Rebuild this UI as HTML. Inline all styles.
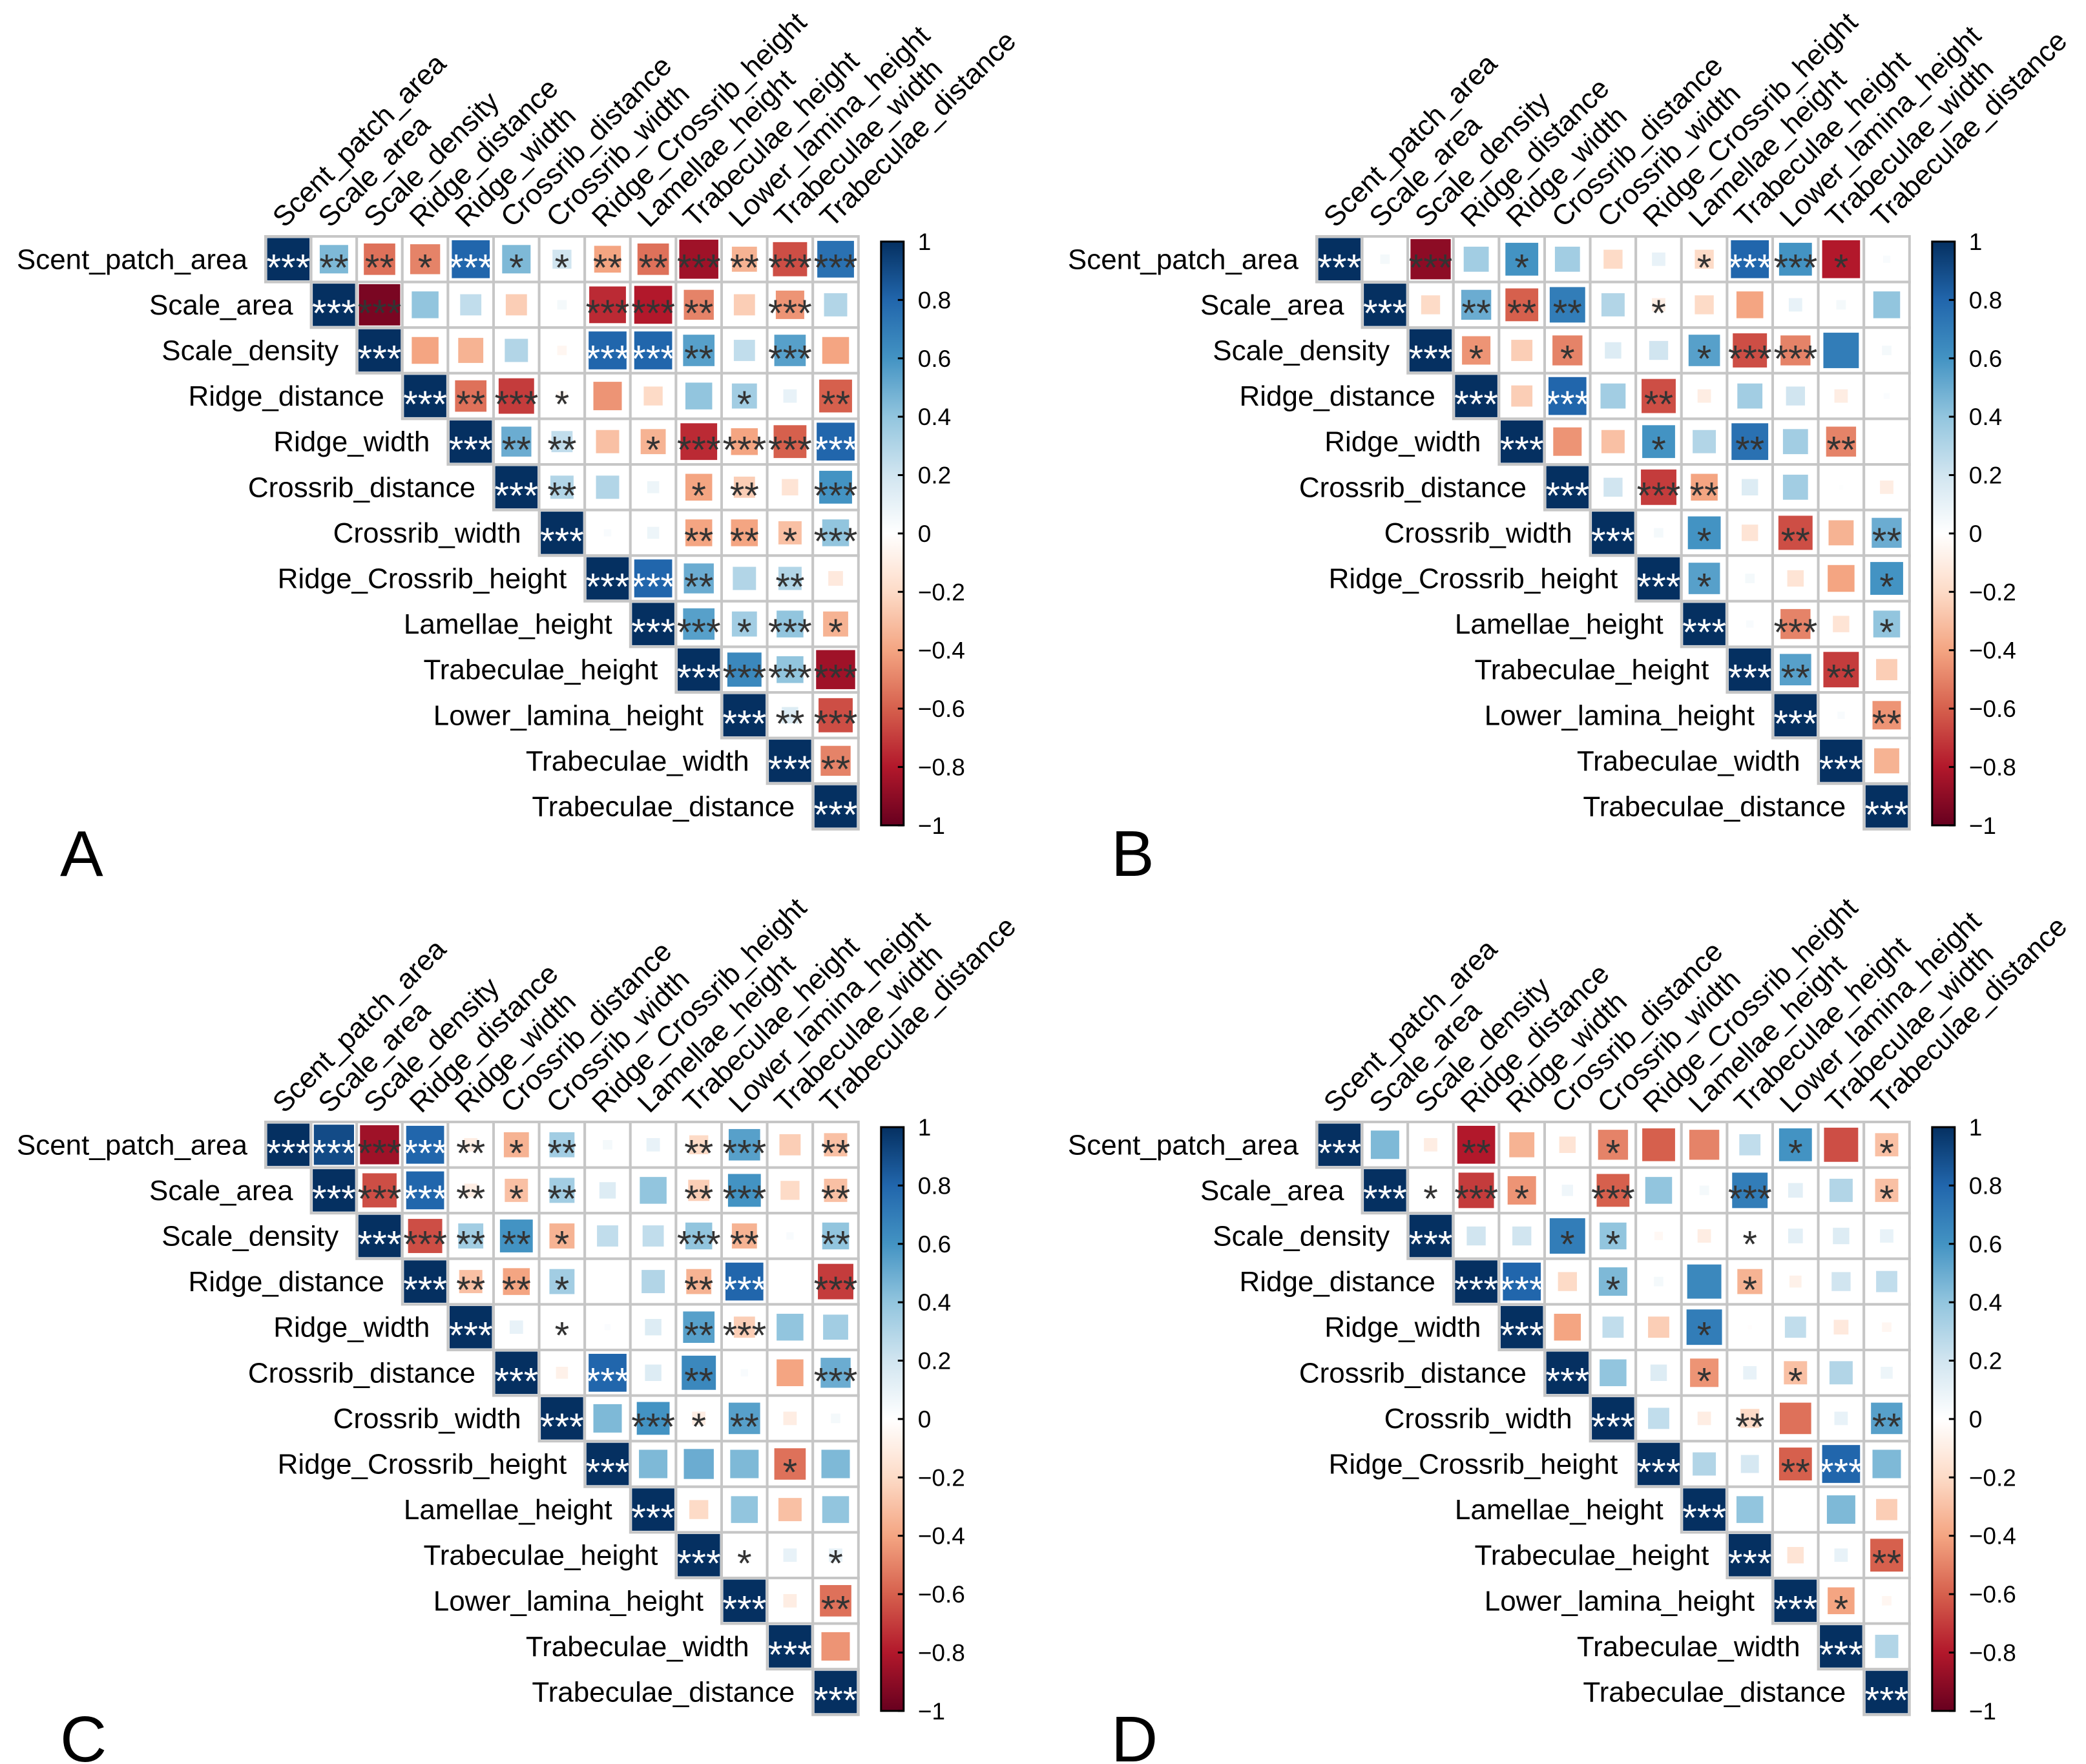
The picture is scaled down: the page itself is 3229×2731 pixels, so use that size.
<!DOCTYPE html>
<html><head><meta charset="utf-8"><style>
html,body{margin:0;padding:0;background:#fff;}
svg{display:block;font-family:"Liberation Sans",Arial,sans-serif;}
</style></head>
<body>
<svg id="chart" width="3229" height="2731" viewBox="0 0 3229 2731" xmlns="http://www.w3.org/2000/svg">
<defs>
<linearGradient id="cbgrad" x1="0" y1="0" x2="0" y2="1">
<stop offset="0" stop-color="#053061"/><stop offset="0.1" stop-color="#2166AC"/><stop offset="0.2" stop-color="#4393C3"/><stop offset="0.3" stop-color="#92C5DE"/><stop offset="0.4" stop-color="#D1E5F0"/><stop offset="0.5" stop-color="#FFFFFF"/><stop offset="0.6" stop-color="#FDDBC7"/><stop offset="0.7" stop-color="#F4A582"/><stop offset="0.8" stop-color="#D6604D"/><stop offset="0.9" stop-color="#B2182B"/><stop offset="1" stop-color="#67001F"/>
</linearGradient>
</defs>
</svg>
<script>
const vars=["Scent_patch_area","Scale_area","Scale_density","Ridge_distance","Ridge_width","Crossrib_distance","Crossrib_width","Ridge_Crossrib_height","Lamellae_height","Trabeculae_height","Lower_lamina_height","Trabeculae_width","Trabeculae_distance"];
const cbTicks=[1,0.8,0.6,0.4,0.2,0,-0.2,-0.4,-0.6,-0.8,-1];
const cbTickLabels=["1","0.8","0.6","0.4","0.2","0","\u22120.2","\u22120.4","\u22120.6","\u22120.8","\u22121"];
const panelLetters=["A","B","C","D"];

const rA=[[0.45,-0.55,-0.5,0.8,0.45,0.2,-0.4,-0.55,-0.85,-0.35,-0.65,0.75],
[-0.95,0.4,0.25,-0.25,0.05,-0.75,-0.8,-0.5,-0.25,-0.45,0.3],
[-0.4,-0.35,0.3,-0.05,0.8,0.8,0.55,0.25,0.55,-0.4],
[-0.55,-0.7,-0.05,-0.45,-0.2,0.4,0.35,0.1,-0.6],
[0.5,0.25,-0.3,-0.35,-0.75,-0.4,-0.6,0.8],
[0.3,0.3,0.08,-0.4,-0.25,-0.15,0.6],
[0.03,0.08,-0.4,-0.4,-0.3,0.4],
[0.8,0.5,0.3,0.3,-0.12],
[0.55,0.35,0.4,-0.35],
[0.65,0.4,-0.85],
[0.15,-0.65],
[-0.5]];
const sA=[[2,2,1,3,1,1,2,2,3,2,3,3],[3,0,0,0,0,3,3,2,0,3,0],[0,0,0,0,3,3,2,0,3,0],[2,3,1,0,0,0,1,0,2],[2,2,0,1,3,3,3,3],[2,0,0,1,2,0,3],[0,0,2,2,1,3],[3,2,0,2,0],[3,1,3,1],[3,3,3],[2,3],[2]];

const rB=[[0.05,-0.9,0.35,0.6,0.35,-0.2,0.1,-0.2,0.8,0.6,-0.8,0.03],
[-0.2,0.5,-0.6,0.7,0.3,-0.1,-0.2,-0.4,0.1,0.05,0.4],
[-0.45,-0.25,-0.5,0.15,0.2,0.55,-0.65,-0.5,0.7,0.05],
[-0.25,0.8,0.35,-0.65,-0.1,0.35,0.2,-0.1,0.02],
[-0.45,-0.3,0.6,0.3,0.75,0.35,-0.5,0],
[0.2,-0.7,-0.4,0.15,0.35,0.01,-0.1],
[0.05,0.6,-0.15,-0.65,-0.35,0.5],
[0.55,0.05,-0.15,-0.4,0.6],
[0.03,-0.5,-0.15,0.4],
[0.55,-0.7,-0.25],
[0.03,-0.45],
[-0.35]];
const sB=[[0,3,0,1,0,0,0,1,3,3,1,0],[0,2,2,2,0,1,0,0,0,0,0],[1,0,1,0,0,1,3,3,0,0],[0,3,0,2,0,0,0,0,0],[0,0,1,0,2,0,2,0],[0,3,2,0,0,0,0],[0,1,0,2,0,2],[1,0,0,0,1],[0,3,0,1],[2,2,0],[0,2],[0]];

const rC=[[0.9,-0.85,0.8,-0.1,-0.35,0.35,0.05,0.1,-0.2,0.55,-0.25,-0.3],
[-0.65,0.8,-0.1,-0.3,0.35,0.15,0.4,-0.25,0.6,-0.2,-0.3],
[-0.65,0.35,0.6,-0.35,0.25,0.25,0.4,-0.35,0.03,0.4],
[-0.3,-0.4,0.35,0,0.3,-0.35,0.8,0,-0.7],
[0.1,0.02,0.02,0.15,0.55,-0.25,0.4,0.35],
[-0.08,0.8,0.15,0.65,0.03,-0.4,0.5],
[0.45,0.6,-0.1,0.55,-0.1,0.05],
[0.45,0.5,0.45,-0.55,0.45],
[-0.2,0.4,-0.3,0.4],
[0.03,0.1,0.1],
[-0.1,-0.55],
[-0.45]];
const sC=[[3,3,3,2,1,2,0,0,2,3,0,2],[3,3,2,1,2,0,0,2,3,0,2],[3,2,2,1,0,0,3,2,0,2],[2,2,1,0,0,2,3,0,3],[0,1,0,0,2,3,0,0],[0,3,0,2,0,0,3],[0,3,1,2,0,0],[0,0,0,1,0],[0,0,0,0],[1,0,1],[0,2],[0]];

const rD=[[0.45,-0.1,-0.8,-0.35,-0.15,-0.5,-0.6,-0.5,0.25,0.6,-0.65,-0.3],
[-0.02,-0.7,-0.45,0.07,-0.6,0.4,0.05,0.7,0.12,0.3,-0.3],
[0.2,0.2,0.7,0.4,-0.04,-0.1,0,0.12,0.15,0.1],
[0.8,-0.2,0.45,0.05,0.65,-0.35,-0.08,0.2,0.25],
[-0.4,0.25,-0.25,0.7,-0.01,0.25,-0.12,-0.05],
[0.4,0.15,-0.45,0.1,-0.3,0.3,0.08],
[0.25,-0.1,-0.2,-0.55,0.1,0.55],
[0.3,0.18,-0.6,0.8,0.45],
[0.4,0,0.45,-0.25],
[-0.15,0.1,-0.6],
[-0.4,-0.05],
[0.3]];
const sD=[[0,0,2,0,0,1,0,0,0,1,0,1],[1,3,1,0,3,0,0,3,0,0,1],[0,0,1,1,0,0,1,0,0,0],[3,0,1,0,0,1,0,0,0],[0,0,0,1,0,0,0,0],[0,0,1,0,1,0,0],[0,0,2,0,0,2],[0,0,2,3,0],[0,0,0,0],[0,0,2],[1,0],[0]];

const panelsR=[rA,rB,rC,rD];
const panelsS=[sA,sB,sC,sD];

const NS="http://www.w3.org/2000/svg";
const svg=document.getElementById("chart");
const CELL=70.6, N=13;
const origins=[[411,366],[2038,366],[411,1737],[2038,1737]];
const stops=["#67001F","#B2182B","#D6604D","#F4A582","#FDDBC7","#FFFFFF","#D1E5F0","#92C5DE","#4393C3","#2166AC","#053061"];
function hex(c){return [parseInt(c.slice(1,3),16),parseInt(c.slice(3,5),16),parseInt(c.slice(5,7),16)];}
function colorOf(r){
  const t=(Math.max(-1,Math.min(1,r))+1)/0.2;
  const i=Math.min(9,Math.floor(t)); const f=t-i;
  const a=hex(stops[i]), b=hex(stops[i+1]);
  return "rgb("+a.map((v,k)=>Math.round(v+(b[k]-v)*f)).join(",")+")";
}
function el(tag,attrs,parent){const e=document.createElementNS(NS,tag);for(const k in attrs)e.setAttribute(k,attrs[k]);(parent||svg).appendChild(e);return e;}

panelsR.forEach((R,p)=>{
  const S=panelsS[p];
  const [ox,oy]=origins[p];
  const g=el("g",{});
  
  
  const xs=j=>ox+j*CELL, ys=i=>oy+i*CELL;
  for(let i=0;i<N;i++){
    for(let j=i;j<N;j++){
      const r = (i===j)?1:R[i][j-i-1];
      const s = (i===j)?3:S[i][j-i-1];
      const bg=el("rect",{x:xs(j),y:ys(i),width:CELL,height:CELL,fill:"#fff",stroke:"#c6c6c6","stroke-width":4},g);
      
      
      const side=Math.sqrt(Math.abs(r))*(CELL-5);
      const cx=xs(j)+CELL/2, cy=ys(i)+CELL/2;
      if(side>0.5){
        const sq=el("rect",{x:cx-side/2,y:cy-side/2,width:side,height:side,fill:colorOf(r)},g);
        
        
      }
      if(s>0){
        const t=el("text",{x:cx,y:cy+33,"text-anchor":"middle","font-size":58,fill:(r>0.78?"#ffffff":"#333333")},g);
        
        
        t.textContent="*".repeat(s);
      }
    }
  }
  for(let i=0;i<N;i++){
    const t=el("text",{x:xs(i)-28,y:ys(i)+CELL/2+15,"text-anchor":"end","font-size":44,fill:"#000"},g);
    
    
    t.textContent=vars[i];
    const lx=xs(i)+CELL/2-6, ly=oy-12;
    const c=el("text",{x:lx,y:ly,"font-size":44,fill:"#000",transform:"rotate(-45 "+lx+" "+ly+")"},g);
    
    
    c.textContent=vars[i];
  }
  // colorbar
  const bx=ox+N*CELL+35, bw=35, bt=oy+8, bb=oy+N*CELL-6;
  const cb=el("rect",{x:bx,y:bt,width:bw,height:bb-bt,fill:"url(#cbgrad)",stroke:"#000","stroke-width":3},g);
  
  
  const cy=v=>bt+(1-v)/2*(bb-bt);
  cbTicks.forEach((v,k)=>{
    const tk=el("line",{x1:bx+bw-9,x2:bx+bw,y1:cy(v),y2:cy(v),stroke:"#000","stroke-width":3},g);
    
    
    const tl=el("text",{x:bx+bw+22,y:cy(v)+13,"font-size":37,fill:"#000"},g);
    
    
    tl.textContent=cbTickLabels[k];
  });
  const L=el("text",{x:ox-318,y:oy+990,"font-size":100,fill:"#000"},g);
  
  
  L.textContent=panelLetters[p];
});
</script>
</body></html>
